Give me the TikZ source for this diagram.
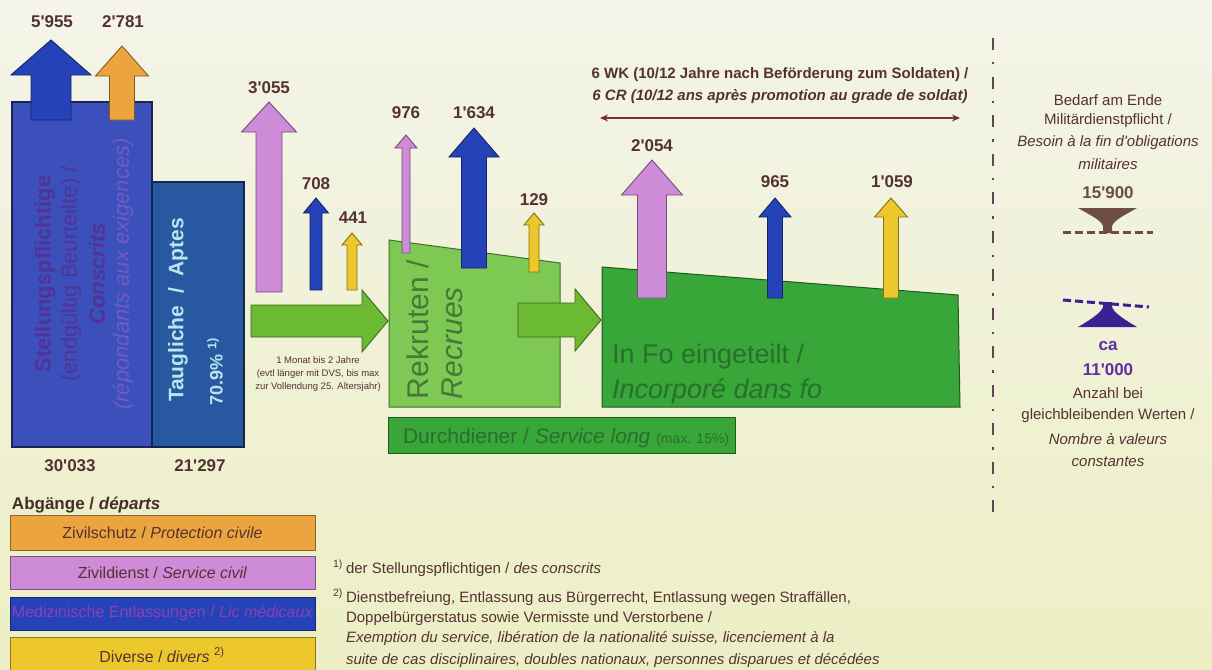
\documentclass[tikz,border=0pt]{standalone}
\usepackage{fontspec}
\setmainfont{Liberation Sans}
\usetikzlibrary{arrows.meta}
\newcommand{\ap}{\XeTeXglyph\XeTeXcharglyph"27\relax}
\definecolor{bgtop}{RGB}{244,244,233}
\definecolor{bgbot}{RGB}{236,239,196}
\definecolor{stelblue}{RGB}{60,80,188}
\definecolor{taugblue}{RGB}{40,88,160}
\definecolor{arrblue}{RGB}{38,66,184}
\definecolor{arrpink}{RGB}{206,140,216}
\definecolor{arrorange}{RGB}{236,165,62}
\definecolor{arryellow}{RGB}{236,200,45}
\definecolor{lgreen}{RGB}{108,186,52}
\definecolor{rekgreen}{RGB}{126,200,84}
\definecolor{dgreen}{RGB}{56,166,56}
\definecolor{txtbrown}{RGB}{85,50,50}
\definecolor{stxt}{RGB}{82,50,150}
\definecolor{stxt2}{RGB}{112,92,192}
\definecolor{tcyan}{RGB}{185,228,240}
\definecolor{grtxt}{RGB}{40,112,44}
\definecolor{rektxt}{RGB}{70,120,55}
\definecolor{funbrown}{RGB}{108,78,68}
\definecolor{funpurple}{RGB}{58,32,145}
\definecolor{numpurple}{RGB}{95,45,165}
\definecolor{dashcol}{RGB}{95,70,80}
\definecolor{dblarr}{RGB}{115,50,65}
\definecolor{medtxt}{RGB}{140,65,175}
\newcommand{\myuparr}[7]{%
  \filldraw[fill=#1, draw=#1!55!black, line width=0.9pt, line join=miter]
  ({#2-#3},#5) -- ({#2-#3},#6) -- ({#2-#4},#6) -- (#2,#7) -- ({#2+#4},#6) -- ({#2+#3},#6) -- ({#2+#3},#5) -- cycle;}
\newcommand{\myrarr}[7]{%
  \filldraw[fill=#1, draw=#1!55!black, line width=0.9pt, line join=miter]
  (#2,{#5-#6}) -- (#3,{#5-#6}) -- (#3,{#5-#7}) -- (#4,#5) -- (#3,{#5+#7}) -- (#3,{#5+#6}) -- (#2,{#5+#6}) -- cycle;}
\begin{document}
\begin{tikzpicture}[x=1pt,y=-1pt,
  every node/.style={inner sep=0pt, outer sep=0pt},
  num/.style={text=txtbrown, font=\bfseries\fontsize{17}{17}\selectfont},
  lgbox/.style={minimum width=305pt, anchor=north west, line width=0.8pt},
  lgtxt/.style={font=\fontsize{16}{16}\selectfont},
  fn/.style={anchor=base west, text=txtbrown, font=\fontsize{15}{15}\selectfont},
  rtxt/.style={text=txtbrown, font=\fontsize{15}{15}\selectfont}]
\useasboundingbox (0,0) rectangle (1212,669);
\shade[top color=bgtop, bottom color=bgbot] (0,0) rectangle (1212,669);

% --- Stellungspflichtige / Taugliche
\node[fill=stelblue, draw=stelblue!45!black, line width=1.2pt, minimum width=140pt, minimum height=345pt, anchor=north west] (stel) at (12,102) {};
\node[fill=taugblue, draw=taugblue!45!black, line width=1.2pt, minimum width=92pt, minimum height=265pt, anchor=north west] (taug) at (152,182) {};
\node[rotate=90, text=stxt, font=\bfseries\fontsize{22}{22}\selectfont] (s1) at (45,274) {Stellungspflichtige};
\node[rotate=90, text=stxt, font=\fontsize{22}{22}\selectfont] (s2) at (71,274) {(endgültig Beurteilte) /};
\node[rotate=90, text=stxt, font=\bfseries\itshape\fontsize{22}{22}\selectfont] (s3) at (97,274) {Conscrits};
\node[rotate=90, text=stxt2, font=\itshape\fontsize{22}{22}\selectfont] (s4) at (123,274) {(répondants aux exigences)};
\node[rotate=90, text=tcyan, font=\bfseries\fontsize{21}{21}\selectfont] (t1) at (178,310) {Taugliche\ \ /\ \ Aptes};
\node[rotate=90, text=tcyan, font=\bfseries\fontsize{18}{18}\selectfont] (t2) at (215,372) {70.9\%\ \textsuperscript{1)}};
\node[num] (n30033) at (70,466) {30\ap033};
\node[num] (n21297) at (200,466) {21\ap297};

% arrows leaving the conscripts
\myuparr{arrblue}{51}{20}{40}{120}{75}{40}
\myuparr{arrorange}{122}{12.5}{26.5}{120}{76}{46}
\node[num] (n5955) at (52,22) {5\ap955};
\node[num] (n2781) at (123,22) {2\ap781};

\myuparr{arrpink}{269}{13}{27.5}{292}{132}{102}
\myuparr{arrblue}{316}{6}{12.5}{290}{213}{198}
\myuparr{arryellow}{352}{5}{10}{290}{245}{233}
\node[num] (n3055) at (269,88) {3\ap055};
\node[num] (n708) at (316,184) {708};
\node[num] (n441) at (353,218) {441};

% first green arrow
\myrarr{lgreen}{251}{362}{388}{321}{16}{31}
\node[align=center, text=txtbrown, font=\fontsize{9.5}{13}\selectfont] (monat) at (318,374) {1 Monat bis 2 Jahre\\(evtl länger mit DVS, bis max\\zur Vollendung 25. Altersjahr)};

% Rekruten
\filldraw[fill=rekgreen, draw=rekgreen!55!black, line width=1pt] (389,240) -- (560,263) -- (560,407) -- (389,407) -- cycle;
\node[rotate=90, anchor=west, text=rektxt, font=\fontsize{30}{30}\selectfont] (rek1) at (418,399) {Rekruten /};
\node[rotate=90, anchor=west, text=rektxt, font=\itshape\fontsize{30}{30}\selectfont] (rek2) at (452,399) {Recrues};
\myuparr{arrpink}{406}{4}{11}{253}{148}{135}
\myuparr{arrblue}{474}{12.5}{25}{268}{157}{128}
\myuparr{arryellow}{534}{5}{10}{272}{225}{213}
\node[num] (n976) at (406,113) {976};
\node[num] (n1634) at (474,113) {1\ap634};
\node[num] (n129) at (534,200) {129};

% Durchdiener
\node[fill=dgreen, draw=dgreen!55!black, line width=1pt, minimum width=347pt, minimum height=36pt, anchor=north west] (durch) at (388,417) {};
\node[anchor=base west, text=grtxt, font=\fontsize{21}{21}\selectfont] (durchtxt) at (403,443) {Durchdiener / \textit{Service long} {\fontsize{14}{14}\selectfont(max. 15\%)}};

% second green arrow
\myrarr{lgreen}{518}{575}{601}{320}{17}{31}

% In Fo
\filldraw[fill=dgreen, draw=dgreen!55!black, line width=1pt] (602,267) -- (958,295) -- (960,407) -- (602,407) -- cycle;
\node[anchor=base west, text=grtxt, font=\fontsize{27}{27}\selectfont] (infol) at (612,363) {In Fo eingeteilt /};
\node[anchor=base west, text=grtxt, font=\itshape\fontsize{27}{27}\selectfont] (inco) at (612,398) {Incorporé dans fo};
\myuparr{arrpink}{652}{14.5}{30.5}{298}{195}{160}
\myuparr{arrblue}{775}{7.5}{16}{298}{217}{198}
\myuparr{arryellow}{891}{7.5}{16.5}{298}{217}{198}
\node[num] (n2054) at (652,146) {2\ap054};
\node[num] (n965) at (775,182) {965};
\node[num] (n1059) at (892,182) {1\ap059};

% WK span
\node[text=txtbrown, font=\bfseries\fontsize{15}{15}\selectfont] (wk1) at (780,75) {6 WK (10/12 Jahre nach Beförderung zum Soldaten) /};
\node[text=txtbrown, font=\bfseries\itshape\fontsize{15}{15}\selectfont] (wk2) at (780,97) {6 CR (10/12 ans après promotion au grade de soldat)};
\coordinate (dl) at (600,118);
\coordinate (dr) at (960,118);
\draw[dblarr, line width=1.6pt, {Stealth[length=8pt,width=7pt]}-{Stealth[length=8pt,width=7pt]}] (dl) -- (dr);

% separator
\coordinate (vtop) at (993,38);
\coordinate (vbot) at (993,515);
\draw[dashcol, line width=2.4pt, dash pattern=on 12pt off 12pt on 2.5pt off 12pt] (vtop) -- (vbot);

% right column
\node[rtxt] (r1) at (1108,100) {Bedarf am Ende};
\node[rtxt] (r2) at (1108,121) {Militärdienstpflicht /};
\node[rtxt, font=\itshape\fontsize{15}{15}\selectfont] (r3) at (1108,143) {Besoin à la fin d\ap obligations};
\node[rtxt, font=\itshape\fontsize{15}{15}\selectfont] (r4) at (1108,164) {militaires};
\node[text=funbrown, font=\bfseries\fontsize{17}{17}\selectfont] (n15900) at (1108,193) {15\ap900};
\fill[funbrown] (1078,208) -- (1137,208) .. controls (1125,215) and (1114,220) .. (1112,226) -- (1112,233) -- (1103,233) -- (1103,226) .. controls (1101,220) and (1090,215) .. (1078,208) -- cycle;
\draw[funbrown, line width=3pt, dash pattern=on 8pt off 4pt] (1063,232) -- (1153,232);
\draw[funpurple, line width=3pt, dash pattern=on 8pt off 4pt] (1063,300) -- (1149,307);
\fill[funpurple] (1103,302) -- (1112,302) -- (1112,307) .. controls (1114,313) and (1125,320) .. (1137,327) -- (1078,327) .. controls (1090,320) and (1101,313) .. (1103,307) -- cycle;
\node[text=numpurple, font=\bfseries\fontsize{17}{17}\selectfont] (ca) at (1108,346) {ca};
\node[text=numpurple, font=\bfseries\fontsize{17}{17}\selectfont] (n11000) at (1108,370) {11\ap000};
\node[rtxt] (r5) at (1108,393) {Anzahl bei};
\node[rtxt] (r6) at (1108,416) {gleichbleibenden Werten /};
\node[rtxt, font=\itshape\fontsize{15}{15}\selectfont] (r7) at (1108,439) {Nombre à valeurs};
\node[rtxt, font=\itshape\fontsize{15}{15}\selectfont] (r8) at (1108,462) {constantes};

% legend
\node[anchor=base west, text=txtbrown!85!black, font=\bfseries\fontsize{17}{17}\selectfont] (abg) at (12,509) {Abgänge / \textit{départs}};
\node[lgbox, fill=arrorange, draw=arrorange!60!black, minimum height=35pt] (zs) at (10,515) {};
\node[lgtxt, text=txtbrown] (zstxt) at (zs.center) {Zivilschutz / \textit{Protection civile}};
\node[lgbox, fill=arrpink, draw=arrpink!60!black, minimum height=33pt] (zd) at (10,556) {};
\node[lgtxt, text=txtbrown] (zdtxt) at (zd.center) {Zivildienst / \textit{Service civil}};
\node[lgbox, fill=arrblue, draw=arrblue!60!black, minimum height=33pt] (med) at (10,597) {};
\node[lgtxt, text=medtxt] (medtxt) at (med.center) {Medizinische Entlassungen / \textit{Lic médicaux}};
\node[lgbox, fill=arryellow, draw=arryellow!60!black, minimum height=40pt] (div) at (10,637) {};
\node[lgtxt, text=txtbrown] (divtxt) at (162,655) {Diverse / \textit{divers} \textsuperscript{2)}};

% footnotes
\node[fn] (fn1m) at (333,573) {\textsuperscript{1)}};
\node[fn] (fn1) at (346,573) {der Stellungspflichtigen / \textit{des conscrits}};
\node[fn] (fn2m) at (333,602) {\textsuperscript{2)}};
\node[fn] (fn2a) at (346,602) {Dienstbefreiung, Entlassung aus Bürgerrecht, Entlassung wegen Straffällen,};
\node[fn] (fn2b) at (346,622) {Doppelbürgerstatus sowie Vermisste und Verstorbene /};
\node[fn, font=\itshape\fontsize{15}{15}\selectfont] (fn2c) at (346,642) {Exemption du service, libération de la nationalité suisse, licenciement à la};
\node[fn, font=\itshape\fontsize{15}{15}\selectfont] (fn2d) at (346,664) {suite de cas disciplinaires, doubles nationaux, personnes disparues et décédées};
\end{tikzpicture}
\end{document}
